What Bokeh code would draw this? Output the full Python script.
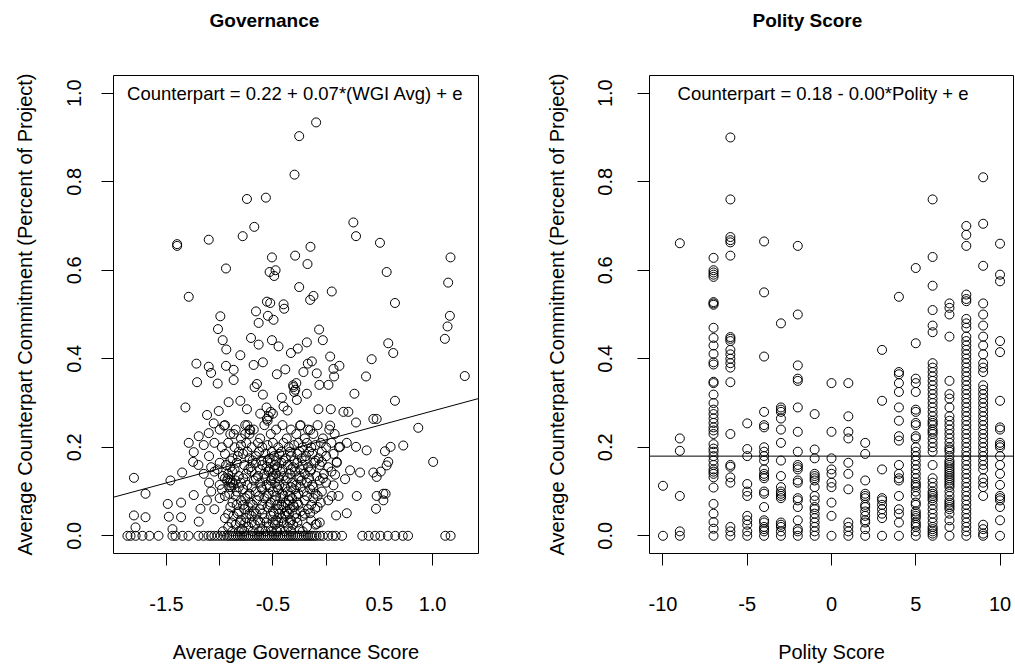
from bokeh.plotting import figure
from bokeh.layouts import row
from bokeh.models import Range1d, FixedTicker, Label, Slope, Title
from bokeh.embed import file_html
from bokeh.resources import INLINE

FONT = "Liberation Sans"

# ---------------- Left panel data: Governance (WGI avg) vs counterpart share ----------------
gov_x = [
    -0.094, -0.253, -0.297, -0.744, -0.566, -0.675, -0.784, 0.256, 0.281, -1.40, -1.40, -1.103, 0.506,
    -0.147, -0.291, -0.509, 1.169, -0.941, -0.175, -0.531, -0.475, -0.488, 0.569, 1.147, -1.291, -0.253,
    0.053, -0.119, -0.150, 0.647, -0.556, -0.525, -0.400, -0.394, -0.659, -0.994, -0.547, 1.163, -0.634,
    -0.494, -0.066, -1.016, 1.141, -0.706, -0.972, -0.509, -0.031, -0.181, 1.116, 0.584, -0.634, -0.447,
    0.631, -0.938, -0.266, -0.331, -0.806, 0.038, 0.428, -1.219, -1.103, -0.941, -0.172, -0.134, 0.125,
    -0.681, -0.594, -0.869, -0.384, -1.081, 0.069, -0.088, -0.213, -0.463, 0.375, 1.303, 0.075, -1.213,
    -1.019, -0.869, -0.650, -0.063, 0.022, -0.306, -0.672, -0.181, 0.266, -0.594, -0.416, -0.275, 0.647,
    -0.806, -0.916, -1.322, -0.744, -0.072, -0.400, -0.619, -0.500, 0.044, 0.163, 0.209, -1.009, -1.119,
    -0.363, 0.281, 0.444, 0.475, 0.866, -0.556, -0.244, -0.959, -1.056, -0.713, 0.038, -0.150, -0.869,
    -1.103, -1.197, -1.291, 0.281, 0.381, 0.606, 0.553, 0.725, 0.194, 0.131, 1.006, 0.584, 0.569, 0.444,
    0.513, 0.319, 0.225, -1.250, -1.244, -1.353, -1.463, -1.806, -1.697, -1.244, -1.181, -1.488, -1.363,
    -1.806, -1.697, -1.478, -1.363, -1.197, -1.791, -1.444, 0.475, 0.538, 0.559, 0.475, 0.469, 0.538,
    0.194, 0.094, 0.288, 0.116, 0.053, 0.069, 0.178, 0.100, 0.084, -0.041, -0.103, -0.088, -0.150,
    # clusters
    -0.31, -0.29, -0.30, -0.28, -0.56, -0.54, -0.52, -0.55, -0.74, -0.72, -0.76, -0.92, -0.90, -0.88, -0.91,
    # row 0.24
    -1.00, -0.95, -0.90, -0.85, -0.80, -0.76, -0.72, -0.68, -0.62, -0.58, -0.52, -0.47, -0.41, -0.37, -0.33,
    -0.28, -0.24, -0.20, -0.17, -0.12, -0.08, -0.03, 0.03, 0.08,
    # row 0.205
    -1.15, -1.05, -0.98, -0.92, -0.86, -0.80, -0.75, -0.70, -0.64, -0.60, -0.55, -0.50, -0.45, -0.40, -0.35,
    -0.30, -0.26, -0.22, -0.18, -0.14, -0.10, -0.05, 0.00, 0.05, 0.12,
    # row 0.18
    -1.10, -0.95, -0.88, -0.83, -0.78, -0.72, -0.66, -0.57, -0.53, -0.49, -0.44, -0.38, -0.33, -0.27, -0.23,
    -0.19, -0.13, -0.07, 0.00, 0.07,
    # row 0.16
    -1.20, -1.08, -1.00, -0.94, -0.90, -0.84, -0.77, -0.71, -0.66, -0.60, -0.56, -0.52, -0.48, -0.46, -0.42,
    -0.36, -0.31, -0.27, -0.22, -0.17, -0.11, -0.06, 0.02, 0.10,
    # row 0.14
    -1.15, -1.05, -0.97, -0.92, -0.88, -0.82, -0.75, -0.70, -0.64, -0.58, -0.54, -0.50, -0.47, -0.43, -0.40,
    -0.34, -0.29, -0.25, -0.20, -0.15, -0.09, -0.02, 0.05,
    # row 0.12
    -1.10, -1.00, -0.93, -0.90, -0.87, -0.85, -0.80, -0.74, -0.68, -0.62, -0.56, -0.52, -0.48, -0.44, -0.38,
    -0.32, -0.28, -0.23, -0.18, -0.13, -0.06, 0.00,
    # row 0.10
    -1.08, -0.98, -0.91, -0.84, -0.78, -0.72, -0.66, -0.60, -0.54, -0.50, -0.45, -0.41, -0.36, -0.30, -0.26,
    -0.21, -0.15, -0.10, -0.04,
    # row 0.08
    -1.12, -1.00, -0.88, -0.80, -0.76, -0.71, -0.65, -0.58, -0.52, -0.48, -0.43, -0.38, -0.35, -0.32, -0.27,
    -0.20, -0.12, -0.05, 0.02,
    # row 0.06
    -1.05, -0.90, -0.82, -0.77, -0.73, -0.68, -0.62, -0.55, -0.50, -0.45, -0.40, -0.37, -0.34, -0.30, -0.24,
    -0.17, -0.08,
    # row 0.04
    -0.95, -0.87, -0.80, -0.75, -0.70, -0.64, -0.58, -0.52, -0.47, -0.42, -0.38, -0.33, -0.28, -0.22, -0.14,
    # row 0.02
    -0.92, -0.85, -0.79, -0.73, -0.67, -0.60, -0.54, -0.48, -0.43, -0.36, -0.31, -0.25, -0.18, -0.10,
    # row 0.19
    -0.82, -0.74, -0.63, -0.51, -0.42, -0.34, -0.25, -0.16, -0.04,
    # row 0.17
    -0.90, -0.69, -0.61, -0.55, -0.47, -0.40, -0.30, -0.20, -0.10,
    # row 0.15
    -1.02, -0.86, -0.73, -0.62, -0.53, -0.49, -0.41, -0.33, -0.24, -0.14,
    # row 0.13
    -0.95, -0.78, -0.66, -0.57, -0.51, -0.45, -0.36, -0.26, -0.16, -0.03,
    # row 0.11
    -0.89, -0.82, -0.70, -0.61, -0.53, -0.46, -0.39, -0.33, -0.24, -0.12,
    # row 0.09
    -0.95, -0.85, -0.74, -0.63, -0.56, -0.47, -0.40, -0.34, -0.28, -0.18, -0.08,
    # row 0.07
    -0.84, -0.78, -0.69, -0.60, -0.53, -0.46, -0.42, -0.36, -0.31, -0.26, -0.14,
    # row 0.05
    -0.92, -0.83, -0.72, -0.66, -0.60, -0.49, -0.44, -0.39, -0.35, -0.29, -0.20,
    # row 0.03
    -0.89, -0.81, -0.76, -0.70, -0.62, -0.56, -0.50, -0.45, -0.40, -0.34, -0.27, -0.06,
    # row 0.01
    -0.97, -0.88, -0.82, -0.77, -0.69, -0.63, -0.57, -0.51, -0.46, -0.39, -0.33, -0.22,
    # zero row
    -1.867, -1.838, -1.790, -1.726, -1.660, -1.575, -1.444, -1.415, -1.350, -1.293, -1.200, -1.152, -1.105,
    -1.08, -1.05, -1.02, -0.99, -0.96, -0.93, -0.91, -0.89, -0.87, -0.85, -0.83, -0.81, -0.79, -0.77,
    -0.75, -0.73, -0.71, -0.69, -0.67, -0.65, -0.63, -0.61, -0.59, -0.57, -0.55, -0.53, -0.51, -0.49,
    -0.47, -0.45, -0.43, -0.41, -0.39, -0.37, -0.35, -0.33, -0.31, -0.29, -0.27, -0.25, -0.23, -0.21,
    -0.19, -0.17, -0.15, -0.13, -0.11, -0.09, -0.06, -0.03, 0.02, 0.06, 0.09, 0.15, 0.34, 0.40, 0.46,
    0.51, 0.58, 0.65, 0.72, 0.77, 1.12, 1.17,
]
gov_y = [
    0.934, 0.903, 0.816, 0.761, 0.764, 0.698, 0.677, 0.708, 0.677, 0.659, 0.655, 0.669, 0.662,
    0.653, 0.633, 0.629, 0.629, 0.604, 0.614, 0.596, 0.600, 0.587, 0.596, 0.572, 0.540, 0.562,
    0.552, 0.542, 0.533, 0.526, 0.529, 0.526, 0.523, 0.513, 0.507, 0.496, 0.497, 0.497, 0.481,
    0.488, 0.466, 0.467, 0.473, 0.447, 0.442, 0.442, 0.442, 0.437, 0.445, 0.435, 0.432, 0.428,
    0.413, 0.421, 0.423, 0.413, 0.408, 0.405, 0.399, 0.389, 0.382, 0.384, 0.389, 0.394, 0.384,
    0.386, 0.392, 0.375, 0.376, 0.368, 0.377, 0.367, 0.370, 0.365, 0.360, 0.361, 0.360, 0.347,
    0.344, 0.352, 0.343, 0.341, 0.341, 0.336, 0.336, 0.321, 0.321, 0.319, 0.312, 0.307, 0.305,
    0.305, 0.302, 0.290, 0.286, 0.286, 0.292, 0.276, 0.276, 0.286, 0.280, 0.280, 0.282, 0.273,
    0.283, 0.256, 0.264, 0.264, 0.244, 0.264, 0.249, 0.249, 0.254, 0.239, 0.249, 0.239, 0.230,
    0.232, 0.225, 0.210, 0.201, 0.193, 0.201, 0.191, 0.204, 0.210, 0.201, 0.167, 0.167, 0.159, 0.143,
    0.145, 0.143, 0.148, 0.167, 0.189, 0.143, 0.125, 0.131, 0.095, 0.092, 0.061, 0.072, 0.075,
    0.046, 0.042, 0.043, 0.042, 0.032, 0.019, 0.015, 0.133, 0.095, 0.095, 0.090, 0.061, 0.080,
    0.051, 0.046, 0.090, 0.090, 0.090, 0.114, 0.128, 0.167, 0.138, 0.167, 0.061, 0.027, 0.051,
    # clusters
    0.34, 0.33, 0.325, 0.345, 0.29, 0.27, 0.28, 0.26, 0.25, 0.24, 0.23, 0.13, 0.125, 0.12, 0.11,
    # row 0.24
    0.24, 0.25, 0.23, 0.24, 0.22, 0.25, 0.23, 0.24, 0.22, 0.25, 0.23, 0.24, 0.25, 0.22, 0.24,
    0.23, 0.25, 0.22, 0.24, 0.23, 0.25, 0.22, 0.24, 0.23,
    # row 0.205
    0.205, 0.21, 0.20, 0.21, 0.20, 0.205, 0.21, 0.20, 0.21, 0.20, 0.205, 0.21, 0.20, 0.21, 0.20,
    0.205, 0.21, 0.20, 0.21, 0.20, 0.205, 0.21, 0.20, 0.21, 0.20,
    # row 0.18
    0.18, 0.185, 0.175, 0.18, 0.185, 0.175, 0.18, 0.185, 0.175, 0.18, 0.185, 0.175, 0.18, 0.185, 0.175,
    0.18, 0.185, 0.175, 0.18, 0.185,
    # row 0.16
    0.16, 0.155, 0.165, 0.16, 0.155, 0.165, 0.16, 0.155, 0.165, 0.16, 0.155, 0.165, 0.16, 0.155, 0.165,
    0.16, 0.155, 0.165, 0.16, 0.155, 0.165, 0.16, 0.155, 0.165,
    # row 0.14
    0.14, 0.145, 0.135, 0.14, 0.145, 0.135, 0.14, 0.145, 0.135, 0.14, 0.145, 0.135, 0.14, 0.145, 0.135,
    0.14, 0.145, 0.135, 0.14, 0.145, 0.135, 0.14, 0.145,
    # row 0.12
    0.12, 0.115, 0.125, 0.12, 0.115, 0.125, 0.12, 0.115, 0.125, 0.12, 0.115, 0.125, 0.12, 0.115, 0.125,
    0.12, 0.115, 0.125, 0.12, 0.115, 0.125, 0.12,
    # row 0.10
    0.10, 0.105, 0.095, 0.10, 0.105, 0.095, 0.10, 0.105, 0.095, 0.10, 0.105, 0.095, 0.10, 0.105, 0.095,
    0.10, 0.105, 0.095, 0.10,
    # row 0.08
    0.08, 0.085, 0.075, 0.08, 0.085, 0.075, 0.08, 0.085, 0.075, 0.08, 0.085, 0.075, 0.08, 0.085, 0.075,
    0.08, 0.085, 0.075, 0.08,
    # row 0.06
    0.06, 0.065, 0.055, 0.06, 0.065, 0.055, 0.06, 0.065, 0.055, 0.06, 0.065, 0.055, 0.06, 0.065, 0.055,
    0.06, 0.065,
    # row 0.04
    0.04, 0.045, 0.035, 0.04, 0.045, 0.035, 0.04, 0.045, 0.035, 0.04, 0.045, 0.035, 0.04, 0.045, 0.035,
    # row 0.02
    0.02, 0.025, 0.015, 0.02, 0.025, 0.015, 0.02, 0.025, 0.015, 0.02, 0.025, 0.015, 0.02, 0.025,
    # row 0.19
    0.19, 0.19, 0.19, 0.19, 0.19, 0.19, 0.19, 0.19, 0.19,
    # row 0.17
    0.17, 0.17, 0.17, 0.17, 0.17, 0.17, 0.17, 0.17, 0.17,
    # row 0.15
    0.15, 0.15, 0.15, 0.15, 0.15, 0.15, 0.15, 0.15, 0.15, 0.15,
    # row 0.13
    0.13, 0.13, 0.13, 0.13, 0.13, 0.13, 0.13, 0.13, 0.13, 0.13,
    # row 0.11
    0.11, 0.11, 0.11, 0.11, 0.11, 0.11, 0.11, 0.11, 0.11, 0.11,
    # row 0.09
    0.09, 0.09, 0.09, 0.09, 0.09, 0.09, 0.09, 0.09, 0.09, 0.09, 0.09,
    # row 0.07
    0.07, 0.07, 0.07, 0.07, 0.07, 0.07, 0.07, 0.07, 0.07, 0.07, 0.07,
    # row 0.05
    0.05, 0.05, 0.05, 0.05, 0.05, 0.05, 0.05, 0.05, 0.05, 0.05, 0.05,
    # row 0.03
    0.03, 0.03, 0.03, 0.03, 0.03, 0.03, 0.03, 0.03, 0.03, 0.03, 0.03, 0.03,
    # row 0.01
    0.01, 0.01, 0.01, 0.01, 0.01, 0.01, 0.01, 0.01, 0.01, 0.01, 0.01, 0.01,
] + [0.0] * 79

# regression line (left): intercept, slope
gov_fit = (0.217, 0.065)

# ---------------- Right panel data: Polity score columns ----------------
polity_cols = {
    -10: [0.113, 0.0],
    -9: [0.661, 0.22, 0.192, 0.09, 0.01, 0.0],
    -7: [0.628, 0.60, 0.595, 0.59, 0.585, 0.528, 0.525, 0.522, 0.47, 0.447, 0.43, 0.411, 0.392, 0.387,
         0.348, 0.345, 0.319, 0.30, 0.285, 0.275, 0.265, 0.255, 0.245, 0.238, 0.23, 0.207, 0.197, 0.19,
         0.18, 0.17, 0.16, 0.15, 0.145, 0.14, 0.132, 0.109, 0.072, 0.05, 0.031, 0.016, 0.0],
    -6: [0.90, 0.76, 0.675, 0.668, 0.663, 0.633, 0.449, 0.445, 0.44, 0.42, 0.41, 0.40, 0.39, 0.38,
         0.347, 0.23, 0.16, 0.156, 0.132, 0.12, 0.02, 0.01, 0.0],
    -5: [0.254, 0.196, 0.18, 0.117, 0.10, 0.09, 0.045, 0.035, 0.025, 0.01, 0.0],
    -4: [0.665, 0.55, 0.405, 0.28, 0.25, 0.245, 0.20, 0.19, 0.18, 0.17, 0.15, 0.14, 0.135, 0.13, 0.10,
         0.095, 0.065, 0.035, 0.03, 0.02, 0.015, 0.01, 0.0],
    -3: [0.48, 0.29, 0.285, 0.28, 0.265, 0.24, 0.21, 0.17, 0.135, 0.11, 0.10, 0.095, 0.09, 0.085, 0.03,
         0.025, 0.02, 0.01, 0.0],
    -2: [0.655, 0.50, 0.385, 0.355, 0.35, 0.29, 0.235, 0.19, 0.16, 0.155, 0.15, 0.125, 0.12, 0.085, 0.08,
         0.065, 0.035, 0.015, 0.01, 0.0],
    -1: [0.275, 0.195, 0.175, 0.14, 0.135, 0.13, 0.125, 0.11, 0.09, 0.08, 0.065, 0.06, 0.05, 0.04, 0.03,
         0.02, 0.01, 0.0],
    0: [0.345, 0.235, 0.175, 0.15, 0.14, 0.12, 0.11, 0.075, 0.045, 0.0],
    1: [0.345, 0.27, 0.235, 0.22, 0.165, 0.14, 0.105, 0.03, 0.02, 0.01, 0.0],
    2: [0.21, 0.185, 0.125, 0.095, 0.09, 0.085, 0.07, 0.065, 0.055, 0.045, 0.035, 0.03, 0.015, 0.0],
    3: [0.42, 0.305, 0.15, 0.085, 0.08, 0.07, 0.06, 0.05, 0.04, 0.0],
    4: [0.54, 0.37, 0.365, 0.345, 0.325, 0.29, 0.26, 0.225, 0.215, 0.16, 0.14, 0.13, 0.125, 0.09, 0.06,
        0.05, 0.03, 0.0],
    5: [0.605, 0.435, 0.355, 0.345, 0.325, 0.285, 0.28, 0.255, 0.25, 0.225, 0.22, 0.20, 0.19, 0.18, 0.17,
        0.16, 0.15, 0.14, 0.13, 0.12, 0.115, 0.11, 0.10, 0.09, 0.075, 0.07, 0.055, 0.05, 0.045, 0.04,
        0.03, 0.025, 0.02, 0.01, 0.0],
    6: [0.76, 0.63, 0.565, 0.51, 0.475, 0.46, 0.39, 0.38, 0.37, 0.36, 0.35, 0.34, 0.33, 0.32, 0.31, 0.30,
        0.29, 0.28, 0.27, 0.26, 0.255, 0.25, 0.24, 0.235, 0.23, 0.22, 0.21, 0.20, 0.19, 0.16, 0.13, 0.12,
        0.11, 0.10, 0.095, 0.09, 0.085, 0.08, 0.07, 0.06, 0.05, 0.04, 0.03, 0.02, 0.015, 0.01, 0.005, 0.0],
    7: [0.525, 0.515, 0.50, 0.45, 0.35, 0.32, 0.31, 0.29, 0.27, 0.26, 0.25, 0.24, 0.23, 0.22, 0.21, 0.20,
        0.195, 0.19, 0.18, 0.17, 0.165, 0.16, 0.155, 0.15, 0.145, 0.14, 0.135, 0.13, 0.125, 0.12, 0.115,
        0.11, 0.10, 0.09, 0.08, 0.075, 0.07, 0.065, 0.06, 0.05, 0.035, 0.02, 0.0],
    8: [0.70, 0.68, 0.655, 0.545, 0.535, 0.53, 0.49, 0.48, 0.47, 0.45, 0.44, 0.43, 0.42, 0.41, 0.40, 0.39,
        0.38, 0.37, 0.36, 0.35, 0.34, 0.33, 0.32, 0.31, 0.30, 0.29, 0.28, 0.27, 0.26, 0.25, 0.24, 0.23,
        0.22, 0.21, 0.20, 0.19, 0.18, 0.17, 0.16, 0.15, 0.14, 0.13, 0.12, 0.11, 0.10, 0.09, 0.08, 0.07,
        0.06, 0.05, 0.04, 0.03, 0.02, 0.01, 0.0],
    9: [0.81, 0.705, 0.61, 0.525, 0.50, 0.475, 0.45, 0.43, 0.41, 0.39, 0.38, 0.37, 0.34, 0.33, 0.32, 0.31,
        0.30, 0.29, 0.28, 0.27, 0.26, 0.25, 0.24, 0.23, 0.22, 0.21, 0.20, 0.19, 0.18, 0.17, 0.16, 0.15,
        0.13, 0.12, 0.11, 0.09, 0.025, 0.015, 0.005, 0.0],
    10: [0.66, 0.59, 0.575, 0.44, 0.415, 0.305, 0.245, 0.24, 0.21, 0.205, 0.20, 0.18, 0.16, 0.14, 0.115,
         0.09, 0.085, 0.08, 0.065, 0.035, 0.0],
}
polity_fit = (0.18, 0.0)

gov_ticks = [-1.5, -1.0, -0.5, 0.0, 0.5, 1.0]
gov_tick_labels = {-1.5: "-1.5", -1.0: "", -0.5: "-0.5", 0.0: "", 0.5: "0.5", 1.0: "1.0"}
pol_ticks = [-10, -5, 0, 5, 10]
pol_tick_labels = {-10: "-10", -5: "-5", 0: "0", 5: "5", 10: "10"}
y_ticks = [0.0, 0.2, 0.4, 0.6, 0.8, 1.0]
y_tick_labels = {0.0: "0.0", 0.2: "0.2", 0.4: "0.4", 0.6: "0.6", 0.8: "0.8", 1.0: "1.0"}

YLABEL = "Average Counterpart Commitment (Percent of Project)"

FRAME_TOP = 75
FRAME_H = 478
FIG_H = 667


def style(p, xlabel):
    p.outline_line_color = "black"
    p.outline_line_width = 1
    p.xgrid.visible = False
    p.ygrid.visible = False
    p.background_fill_color = "white"
    p.border_fill_color = "white"
    for ax in (p.xaxis[0], p.yaxis[0]):
        ax.axis_line_color = None
        ax.major_tick_out = 12
        ax.major_tick_in = 0
        ax.minor_tick_line_color = None
        ax.major_tick_line_color = "black"
        ax.major_label_text_font = FONT
        ax.major_label_text_font_size = "20px"
        ax.major_label_text_color = "black"
        ax.axis_label_text_font = FONT
        ax.axis_label_text_font_size = "20px"
        ax.axis_label_text_font_style = "normal"
        ax.axis_label_text_color = "black"
    p.xaxis.axis_label = xlabel
    p.yaxis.axis_label = YLABEL
    p.xaxis.major_label_standoff = 31
    p.xaxis.axis_label_standoff = 27
    p.yaxis.major_label_standoff = 20
    p.yaxis.axis_label_standoff = 29
    p.yaxis.ticker = FixedTicker(ticks=y_ticks)
    p.yaxis.major_label_overrides = y_tick_labels
    p.yaxis.major_label_orientation = "vertical"


def set_title(p, text, offset):
    # a blank white spacer sits next to the frame; the real title is stacked above it
    p.title.text = ""
    p.add_layout(Title(text=" ", text_font=FONT, text_font_size="10px", text_color="white",
                       standoff=32), "above")
    p.add_layout(Title(text=text, align="left", offset=offset, vertical_align="bottom",
                       text_font=FONT, text_font_size="19px", text_font_style="bold",
                       text_color="black", standoff=0), "above")


p1 = figure(width=515, height=FIG_H, x_range=Range1d(-1.998, 1.432), y_range=Range1d(-0.04, 1.04),
            output_backend="svg", toolbar_location=None,
            min_border_left=113, min_border_right=37, min_border_top=FRAME_TOP,
            min_border_bottom=FIG_H - FRAME_TOP - FRAME_H)
style(p1, "Average Governance Score")
set_title(p1, "Governance", 96)
p1.xaxis.ticker = FixedTicker(ticks=gov_ticks)
p1.xaxis.major_label_overrides = gov_tick_labels
p1.scatter(gov_x, gov_y, marker="circle", size=9, fill_color=None, line_color="black", line_width=1)
p1.add_layout(Slope(gradient=gov_fit[1], y_intercept=gov_fit[0], line_color="black", line_width=1))
p1.add_layout(Label(x=-0.29, y=1.0, text="Counterpart = 0.22 + 0.07*(WGI Avg) + e",
                    text_align="center", text_baseline="middle", text_font=FONT,
                    text_font_size="18.5px", text_color="black"))

px, py = [], []
for k, vals in polity_cols.items():
    for v in vals:
        px.append(k)
        py.append(v)

p2 = figure(width=500, height=FIG_H, x_range=Range1d(-10.8, 10.8), y_range=Range1d(-0.04, 1.04),
            output_backend="svg", toolbar_location=None,
            min_border_left=134, min_border_right=2, min_border_top=FRAME_TOP,
            min_border_bottom=FIG_H - FRAME_TOP - FRAME_H)
style(p2, "Polity Score")
set_title(p2, "Polity Score", 103)
p2.yaxis.major_label_standoff = 25
p2.yaxis.axis_label_standoff = 28
p2.xaxis.ticker = FixedTicker(ticks=pol_ticks)
p2.xaxis.major_label_overrides = pol_tick_labels
p2.scatter(px, py, marker="circle", size=9, fill_color=None, line_color="black", line_width=1)
p2.add_layout(Slope(gradient=polity_fit[1], y_intercept=polity_fit[0], line_color="black", line_width=1))
p2.add_layout(Label(x=-0.5, y=1.0, text="Counterpart = 0.18 - 0.00*Polity + e",
                    text_align="center", text_baseline="middle", text_font=FONT,
                    text_font_size="18.5px", text_color="black"))

layout = row(p1, p2)
open("out.html", "w").write(file_html(layout, INLINE))
